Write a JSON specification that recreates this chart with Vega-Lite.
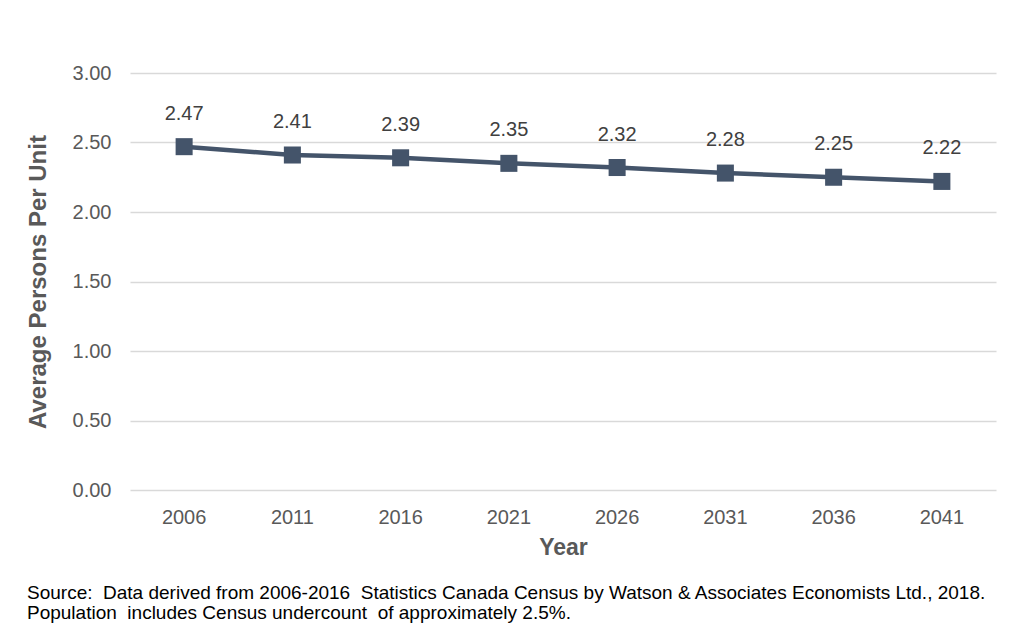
{
  "$schema": "https://vega.github.io/schema/vega-lite/v6.json",
  "width": 866,
  "height": 417,
  "autosize": {"type": "none"},
  "padding": {"left": 130, "top": 73, "right": 17, "bottom": 151},
  "background": "white",
  "config": {
    "font": "Liberation Sans",
    "view": {"stroke": null}
  },
  "title": {
    "text": ["Source:\u00a0 Data derived from 2006-2016\u00a0 Statistics Canada Census by Watson & Associates Economists Ltd., 2018.", "Population\u00a0 includes Census undercount\u00a0 of approximately 2.5%."],
    "orient": "bottom",
    "anchor": "start",
    "frame": "group",
    "dx": -103,
    "offset": 25,
    "fontSize": 19,
    "fontWeight": "normal",
    "color": "#000000",
    "lineHeight": 20
  },
  "data": {
    "values": [
      {"Year": "2006", "Value": 2.47},
      {"Year": "2011", "Value": 2.41},
      {"Year": "2016", "Value": 2.39},
      {"Year": "2021", "Value": 2.35},
      {"Year": "2026", "Value": 2.32},
      {"Year": "2031", "Value": 2.28},
      {"Year": "2036", "Value": 2.25},
      {"Year": "2041", "Value": 2.22}
    ]
  },
  "encoding": {
    "x": {
      "field": "Year",
      "type": "ordinal",
      "scale": {"type": "band", "paddingInner": 0, "paddingOuter": 0},
      "axis": {
        "title": "Year",
        "labelAngle": 0,
        "labelFontSize": 20,
        "labelColor": "#595959",
        "labelPadding": 17,
        "ticks": false,
        "domain": false,
        "grid": false,
        "titleFontSize": 23,
        "titleFontWeight": "bold",
        "titleColor": "#595959",
        "titlePadding": 9
      }
    },
    "y": {
      "field": "Value",
      "type": "quantitative",
      "scale": {"domain": [0, 3]},
      "axis": {
        "title": "Average Persons Per Unit",
        "values": [0, 0.5, 1, 1.5, 2, 2.5, 3],
        "format": ".2f",
        "labelFontSize": 20,
        "labelColor": "#595959",
        "labelPadding": 19,
        "ticks": false,
        "domain": false,
        "grid": true,
        "gridColor": "#D9D9D9",
        "gridWidth": 1.3,
        "titleFontSize": 24,
        "titleFontWeight": "bold",
        "titleColor": "#595959",
        "titlePadding": 22
      }
    }
  },
  "layer": [
    {
      "mark": {"type": "line", "color": "#44546A", "strokeWidth": 4.5}
    },
    {
      "mark": {"type": "point", "shape": "square", "filled": true, "size": 290, "color": "#44546A", "opacity": 1}
    },
    {
      "mark": {"type": "text", "dy": -33, "fontSize": 20, "color": "#404040"},
      "encoding": {"text": {"field": "Value", "type": "quantitative", "format": ".2f"}}
    }
  ]
}
